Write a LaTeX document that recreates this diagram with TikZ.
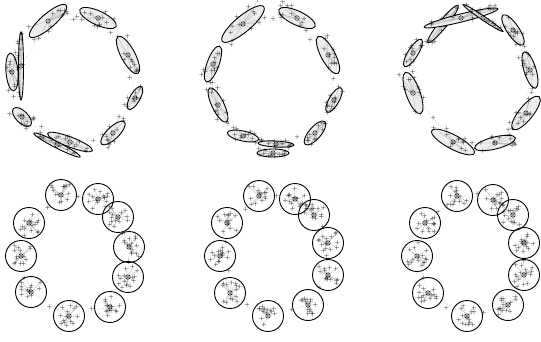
\documentclass[tikz,border=0pt]{standalone}
\usetikzlibrary{calc}
\tikzset{
  ell/.style={draw=black,line width=0.9pt},
  ellfill/.style={fill=gray!14},
  hatch/.style={draw=gray!60,line width=0.3pt},
  ring/.style={draw=gray!70,dotted,line width=0.5pt},
  ctr/.style={draw=black,line width=0.5pt},
  blob/.style={draw=black,line width=0.9pt},
  pt/.style={inner sep=0pt,font=\fontsize{6}{6}\selectfont},
}
% one ring of ellipse clusters: prefix, list cx/cy/a/b/angle
\newcommand{\ellring}[2]{%
  \foreach \cx/\cy/\a/\b/\ang [count=\i] in {#2}{
    \coordinate (#1\i) at (\cx,\cy);
    \begin{scope}[shift={(\cx,\cy)},rotate=\ang]
      \fill[ellfill] (0,0) ellipse [x radius=\a pt,y radius=\b pt];
      \foreach \k in {1,...,12}{
        \pgfmathsetmacro\u{1.0*\a*rand}
        \pgfmathsetmacro\v{1.3*\b*rand}
        \draw[hatch] (0,0) -- (\u pt,\v pt);
        \node[pt] at (\u pt,\v pt) {+};
      }
      \draw[ell] (0,0) ellipse [x radius=\a pt,y radius=\b pt];
      \draw[ctr] (0,0) circle [radius=2.2pt];
      \fill (0,0) circle [radius=0.6pt];
    \end{scope}
  }
  \draw[ring] (#11) \foreach \j in {2,...,10}{-- (#1\j)} -- cycle;
  \foreach \j [evaluate=\j as \nx using {int(mod(\j,10)+1)}] in {1,...,10}{
    \node[pt] at ($(#1\j)!0.5!(#1\nx)+({4*rand},{4*rand})$) {+};
  }
}
% one ring of circle clusters: prefix, list cx/cy
\newcommand{\circring}[2]{%
  \foreach \cx/\cy [count=\i] in {#2}{
    \coordinate (#1\i) at (\cx,\cy);
    \foreach \k in {1,...,14}{
      \pgfmathsetmacro\u{10*rand}
      \pgfmathsetmacro\v{10*rand}
      \draw[hatch] (#1\i) -- ++(\u pt,\v pt) node[pt] {+};
    }
    \draw[blob] (#1\i) circle [radius=15.5pt];
    \draw[ctr] (#1\i) circle [radius=2.2pt];
    \fill (#1\i) circle [radius=0.6pt];
  }
  \draw[ring] (#11) \foreach \j in {2,...,10}{-- (#1\j)} -- cycle;
  \foreach \j [evaluate=\j as \nx using {int(mod(\j,10)+1)}] in {1,...,10}{
    \node[pt] at ($(#1\j)!0.5!(#1\nx)+({4*rand},{4*rand})$) {+};
  }
}

\begin{document}
\begin{tikzpicture}[x=1pt,y=-1pt]
  \useasboundingbox (0,0) rectangle (541,341);
  \pgfmathsetseed{17}
  % top row
  \ellring{ea}{48/21/24/7/41, 98/18/20/7/-25, 128/55/21/7/-62, 135/98/13/5/60,
    113/133/16/6/44, 70/142/24/5/-21, 57/145/26/3/-27, 22/117/12/6/-45,
    12/72/19/6/-85, 21/66/34/2.5/90}
  \ellring{eb}{243/24/27/8/40, 297/18/20/7/-25, 328/55/21/7/-62, 334/100/14/5/60,
    315/133/15/6/49, 276/144/18/3/-3, 273/153/16/4/0, 243/136/16/5/-12,
    218/105/19/6/-64, 213/64/19/6/70}
  \ellring{ec}{443/24/24/4/51, 461/18/38/4/14, 483/18/24/2/-34, 513/30/18/6/-56,
    530/70/19/6/-73, 526/113/21/7/51, 495/143/21/6/14, 453/142/24/7/-28,
    413/93/22/7/-70, 413/53/16/5/58}
  % bottom row
  \circring{ca}{61/195, 98/199, 118/217, 129/247, 128/277, 110/307, 69/316,
    31/292, 21/256, 29/223}
  \circring{cb}{259/196, 295/199, 314/215, 328/243, 328/275, 308/305, 268/316,
    230/293, 220/256, 227/223}
  \circring{cc}{457/196, 493/200, 513/215, 524/243, 524/275, 508/305, 467/316,
    428/293, 417/256, 425/223}
\end{tikzpicture}
\end{document}
